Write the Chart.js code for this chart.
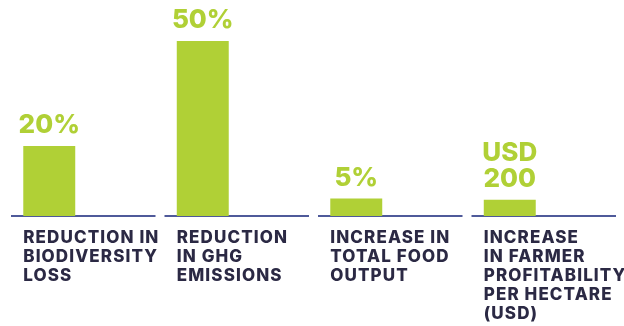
<!DOCTYPE html>
<html>
<head>
<meta charset="utf-8">
<script src="https://cdn.jsdelivr.net/npm/chart.js@4/dist/chart.umd.min.js"></script>
<style>
  html, body { margin: 0; padding: 0; background: #fff; }
  #Contenedor { width: 624px; height: 326px; }
</style>
</head>
<body>
<div id="Contenedor"><canvas id="Grafico" width="624" height="326"></canvas></div>
<script>
const Categorias = [
  ['REDUCTION IN', 'BIODIVERSITY', 'LOSS'],
  ['REDUCTION', 'IN GHG', 'EMISSIONS'],
  ['INCREASE IN', 'TOTAL FOOD', 'OUTPUT'],
  ['INCREASE', 'IN FARMER', 'PROFITABILITY', 'PER HECTARE', '(USD)']
];
const Porcentajes = [20, 50, 5, null];
const GananciaUsd = [null, null, null, 200];

const Verde     = '#b0d036';
const Marino    = '#2b2944';
const ColorBase = '#4f5a9a';
const Fuente    = 'Inter, "Noto Sans", sans-serif';

// Formato del rotulo de cada dataset (una entrada por linea)
const Formatos = [
  V => [V + '%'],
  V => ['USD', String(V)]
];

// Espaciado entre letras para los rotulos del eje x
const Espaciado = {
  id: 'Espaciado',
  beforeDraw(Grafico)         { Grafico.ctx.letterSpacing = '1.1px'; },
  beforeDatasetsDraw(Grafico) { Grafico.ctx.letterSpacing = '0px'; }
};

// Tramos de linea base, uno por categoria
const LineasBase = {
  id: 'LineasBase',
  beforeDatasetsDraw(Grafico) {
    const { ctx, scales: { x, y } } = Grafico;
    const Ancho = x.width / Categorias.length;
    const Y0    = y.getPixelForValue(0);
    ctx.save();
    ctx.strokeStyle = ColorBase;
    ctx.lineWidth   = 2;
    Categorias.forEach((_, I) => {
      const Centro = x.getPixelForValue(I);
      ctx.beginPath();
      ctx.moveTo(Centro - Ancho / 2 + 1, Y0);
      ctx.lineTo(Centro + Ancho / 2 - 8, Y0);
      ctx.stroke();
    });
    ctx.restore();
  }
};

// Valor encima de cada barra
const EtiquetasValor = {
  id: 'EtiquetasValor',
  afterDatasetsDraw(Grafico) {
    const { ctx } = Grafico;
    ctx.save();
    ctx.fillStyle    = Verde;
    ctx.font         = `800 26px ${Fuente}`;
    ctx.textAlign    = 'center';
    ctx.textBaseline = 'alphabetic';
    Formatos.forEach((Formato, D) => {
      const Datos = Grafico.data.datasets[D].data;
      Grafico.getDatasetMeta(D).data.forEach((Barra, I) => {
        if (Datos[I] == null) return;
        const Lineas = Formato(Datos[I]);
        Lineas.forEach((Texto, L) => {
          ctx.fillText(Texto, Barra.x, Barra.y - 13 - (Lineas.length - 1 - L) * 26);
        });
      });
    });
    ctx.restore();
  }
};

const Barras = { categoryPercentage: 0.977, barPercentage: 0.693, backgroundColor: Verde, borderWidth: 0 };

new Chart(document.getElementById('Grafico'), {
  type: 'bar',
  data: {
    labels: Categorias,
    datasets: [
      { ...Barras, data: Porcentajes, yAxisID: 'y',  stack: 'Barra' },
      { ...Barras, data: GananciaUsd, yAxisID: 'y2', stack: 'Barra' },
      { ...Barras, data: Categorias.map(() => null), yAxisID: 'y', stack: 'Hueco' }
    ]
  },
  options: {
    responsive: false,
    animation: false,
    events: [],
    layout: { padding: { left: 10, right: 0, top: 6, bottom: 0 } },
    plugins: { legend: { display: false }, tooltip: { enabled: false } },
    scales: {
      x: {
        grid: { display: false, drawTicks: false },
        border: { display: false },
        ticks: {
          align: 'start',
          labelOffset: -63.5,
          padding: 12,
          autoSkip: false,
          maxRotation: 0,
          color: Marino,
          font: { family: Fuente, size: 17, weight: 800, lineHeight: 1.12 }
        },
        afterFit: S => { S.height = 110; S.paddingLeft = 0; S.paddingRight = 0; }
      },
      y:  { display: false, min: 0, max: 60 },
      y2: { display: false, min: 0, max: 2600 }
    }
  },
  plugins: [Espaciado, LineasBase, EtiquetasValor]
});
</script>
</body>
</html>
